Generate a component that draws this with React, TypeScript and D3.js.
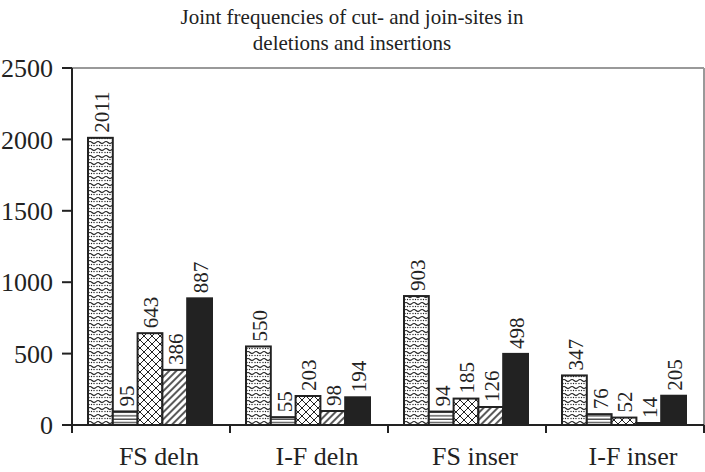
import React from "react";
import * as d3 from "d3";

const categories = ["FS deln", "I-F deln", "FS inser", "I-F inser"];
const seriesKeys = ["s1", "s2", "s3", "s4", "s5"];
const s1 = [2011, 550, 903, 347];
const s2 = [95, 55, 94, 76];
const s3 = [643, 203, 185, 52];
const s4 = [386, 98, 126, 14];
const s5 = [887, 194, 498, 205];
const seriesValues = [s1, s2, s3, s4, s5];
const yTicks = [0, 500, 1000, 1500, 2000, 2500];
const titleLines = ["Joint frequencies of cut- and join-sites in", "deletions and insertions"];

const W = 705, H = 472;
const left = 72, right = 704, top = 68, bottom = 425;
const fills = ["url(#pWave)", "url(#pHoriz)", "url(#pCross)", "url(#pDiag)", "#222"];
const ff = { fontFamily: "Liberation Serif" };

export default function App() {
  const x0 = d3.scaleBand().domain(categories).range([left, right]).paddingInner(0).paddingOuter(0);
  const x1 = d3.scaleBand().domain(seriesKeys).range([16, x0.bandwidth() - 18]).padding(0);
  const y = d3.scaleLinear().domain([0, 2500]).range([bottom, top]);
  return (
    <svg width={W} height={H} style={{ position: "absolute", left: 0, top: 0 }}>
      <defs>
        <pattern id="pWave" width="8" height="7" patternUnits="userSpaceOnUse">
          <rect width="8" height="7" fill="#fff" />
          <path d="M0,2.5 Q2,0.5 4,2.5 T8,2.5" fill="none" stroke="#222" strokeWidth="1.1" />
          <circle cx="1" cy="5.5" r="0.7" fill="#222" />
          <circle cx="3.5" cy="5.5" r="0.7" fill="#222" />
          <circle cx="6" cy="5.5" r="0.7" fill="#222" />
        </pattern>
        <pattern id="pHoriz" width="4" height="3.4" patternUnits="userSpaceOnUse">
          <rect width="4" height="3.4" fill="#fff" />
          <line x1="0" y1="1" x2="4" y2="1" stroke="#222" strokeWidth="1.1" />
        </pattern>
        <pattern id="pCross" width="8" height="8" patternUnits="userSpaceOnUse">
          <rect width="8" height="8" fill="#fff" />
          <path d="M0,0 L8,8 M8,0 L0,8" stroke="#222" strokeWidth="1" />
        </pattern>
        <pattern id="pDiag" width="5" height="5" patternUnits="userSpaceOnUse" patternTransform="rotate(45)">
          <rect width="5" height="5" fill="#fff" />
          <line x1="1" y1="0" x2="1" y2="5" stroke="#222" strokeWidth="1.5" />
        </pattern>
      </defs>
      <rect width={W} height={H} fill="#fff" />
      {titleLines.map((t, i) => (
        <text key={t} x={352} y={24 + i * 26} textAnchor="middle" fontSize={21} style={ff} fill="#222">{t}</text>
      ))}
      {/* frame */}
      <line x1={left} x2={right} y1={top} y2={top} stroke="#999" strokeWidth={2} />
      <line x1={right} x2={right} y1={top} y2={bottom} stroke="#999" strokeWidth={2} />
      {/* bars */}
      {categories.map((c, ci) => (
        <g key={c} transform={`translate(${x0(c)},0)`}>
          {seriesKeys.map((k, si) => {
            const v = seriesValues[si][ci];
            const bx = x1(k)!;
            const bw = x1.bandwidth();
            return (
              <g key={k}>
                <rect x={bx} y={y(v)} width={bw} height={bottom - y(v)} fill={fills[si]} stroke="#222" strokeWidth={2} />
                <text transform={`translate(${bx + bw / 2 + 1},${y(v) - 5}) rotate(-90)`} dy="0.35em" fontSize={21} style={ff} fill="#222">{v}</text>
              </g>
            );
          })}
        </g>
      ))}
      {/* y axis */}
      <line x1={left} x2={left} y1={top} y2={bottom + 8} stroke="#222" strokeWidth={2} />
      {yTicks.map((t) => (
        <g key={t}>
          <line x1={left - 10} x2={left} y1={y(t)} y2={y(t)} stroke="#222" strokeWidth={2} />
          <text x={53} y={y(t)} dy="0.35em" textAnchor="end" fontSize={26} style={ff} fill="#222">{t}</text>
        </g>
      ))}
      {/* x axis */}
      <line x1={left} x2={right} y1={bottom} y2={bottom} stroke="#222" strokeWidth={2} />
      {categories.map((c, ci) => (
        <g key={c}>
          <line x1={x0(c)! + x0.bandwidth()} x2={x0(c)! + x0.bandwidth()} y1={bottom} y2={bottom + 8} stroke="#222" strokeWidth={2} />
          <text x={x0(c)! + x0.bandwidth() / 2 + 8} y={bottom + 40} textAnchor="middle" fontSize={26} style={ff} fill="#222">{c}</text>
        </g>
      ))}
    </svg>
  );
}
